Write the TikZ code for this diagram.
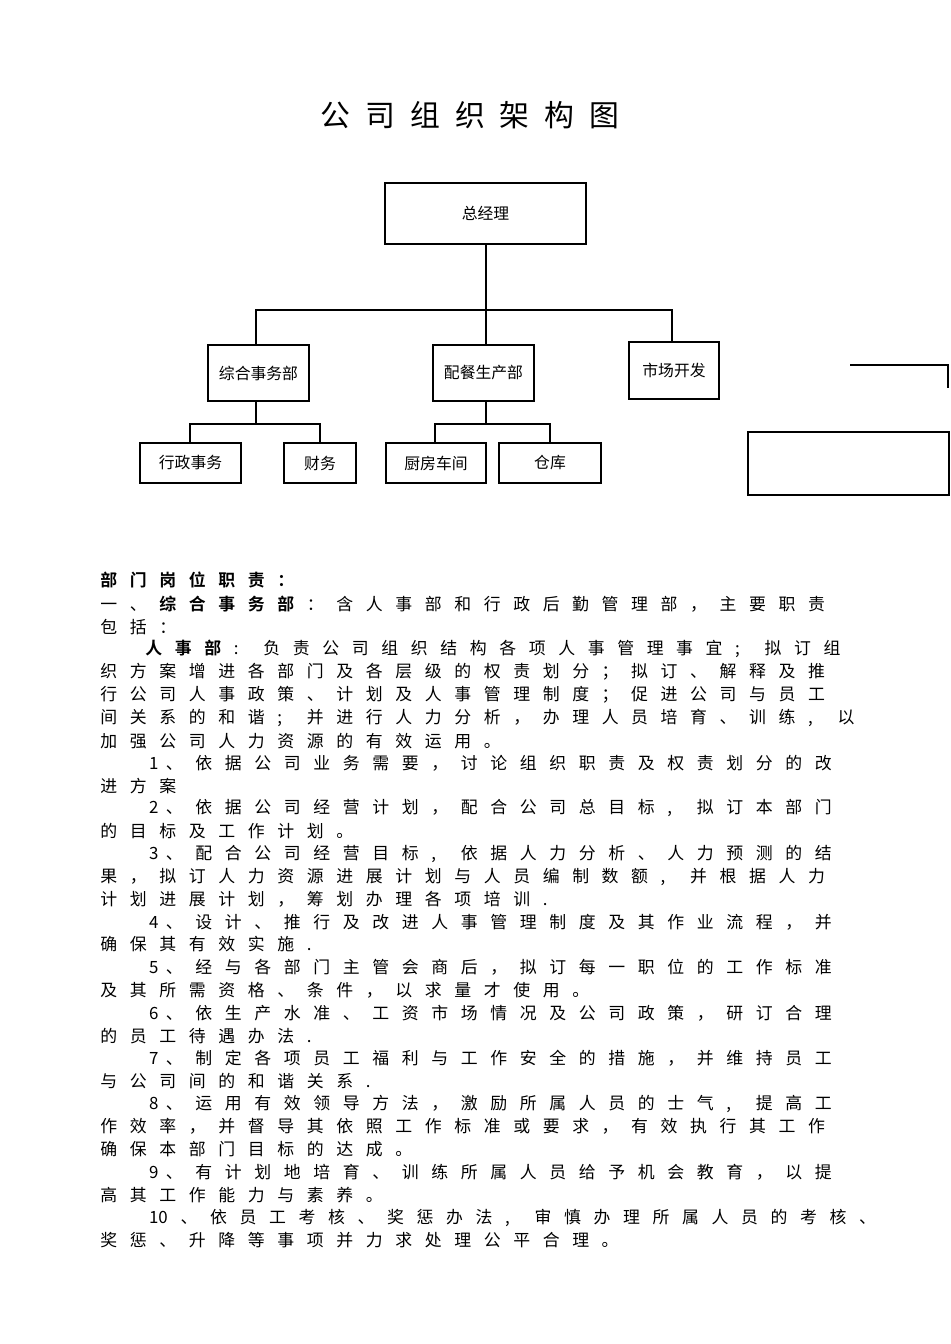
\documentclass[tikz,border=0pt]{standalone}
\usepackage{fontspec}
\newfontfamily\cjk{Noto Sans CJK SC}
\newfontfamily\cjkb{Noto Sans CJK SC Bold}
\newlength\cw \setlength\cw{0.59cm}
\def\spx#1{\ifx\relax#1\else\makebox[\cw][l]{#1}\expandafter\spx\fi}
\begin{document}
\begin{tikzpicture}[x=0.02cm,y=-0.02cm,
 bx/.style={draw,line width=0.8pt,inner sep=0pt,font=\cjk\fontsize{9pt}{10pt}\selectfont},
 ln/.style={line width=0.7pt},
 tl/.style={anchor=west,inner sep=0pt,font=\cjk\fontsize{9.6pt}{11pt}\selectfont}]
\useasboundingbox (0,0) rectangle (950,1344);
\node[font=\cjk\fontsize{17pt}{20pt}\selectfont] (title) at (470,115) {公\hspace{0.5em}司\hspace{0.5em}组\hspace{0.5em}织\hspace{0.5em}架\hspace{0.5em}构\hspace{0.5em}图};
\node[bx,minimum width=4.02cm,minimum height=1.22cm] (gm) at (485.5,213.5) {总经理};
\node[bx,minimum width=2.02cm,minimum height=1.12cm] (z) at (258.5,373) {综合事务部};
\node[bx,minimum width=2.02cm,minimum height=1.12cm] (p) at (483.5,373) {配餐生产部};
\node[bx,minimum width=1.8cm,minimum height=1.14cm] (s) at (674,370.5) {市场开发};
\node[bx,minimum width=2.02cm,minimum height=0.8cm] (a) at (190.5,463) {行政事务};
\node[bx,minimum width=1.44cm,minimum height=0.8cm] (b) at (320,463) {财务};
\node[bx,minimum width=2cm,minimum height=0.8cm] (c) at (436,463) {厨房车间};
\node[bx,minimum width=2.04cm,minimum height=0.8cm] (d) at (550,463) {仓库};
\node[bx,minimum width=4.02cm,minimum height=1.26cm] (e) at (848.5,463.5) {};
\coordinate (h1) at (850,365); \coordinate (h2) at (948,388);
\draw[ln] (gm.south -| 486,0) -- (486,345);
\draw[ln] (z.north -| 256,0) -- (256,310) -- (672,310) -- (s.north -| 672,0);
\draw[ln] (z.south -| 256,0) -- (256,424);
\draw[ln] (a.north -| 190,0) -- (190,424) -- (320,424) -- (b.north);
\draw[ln] (p.south -| 486,0) -- (486,424);
\draw[ln] (c.north -| 435,0) -- (435,424) -- (550,424) -- (d.north);
\draw[ln] (h1) -- (h1 -| h2) -- (h2);
% text
\def\L#1#2#3{\node[tl] at (#1,#2) {\spx #3\relax};}
\def\N#1#2#3#4#5{\node[tl] at (#1,#2) {\makebox[#3\cw][l]{#4}\spx #5\relax};}
\node[tl,font=\cjkb\fontsize{9.6pt}{11pt}\selectfont] at (100,580) {\spx 部门岗位职责：\relax};
\node[tl] at (100,604) {\spx 一、\relax{\cjkb\spx 综合事务部\relax}\spx ：含人事部和行政后勤管理部，主要职责\relax};
\L{100}{627}{包括：}
\node[tl] at (145,649) {{\cjkb\spx 人事部\relax}\spx :负责公司组织结构各项人事管理事宜;拟订组\relax};
\L{100}{672}{织方案增进各部门及各层级的权责划分；拟订、解释及推}
\L{100}{695}{行公司人事政策、计划及人事管理制度；促进公司与员工}
\L{100}{718}{间关系的和谐;并进行人力分析，办理人员培育、训练,以}
\L{100}{741}{加强公司人力资源的有效运用。}
\N{145}{763}{0.7}{\ 1}{、依据公司业务需要，讨论组织职责及权责划分的改}
\L{100}{786}{进方案}
\N{145}{808}{0.7}{\ 2}{、依据公司经营计划，配合公司总目标,拟订本部门}
\L{100}{831}{的目标及工作计划。}
\N{145}{854}{0.7}{\ 3}{、配合公司经营目标,依据人力分析、人力预测的结}
\L{100}{877}{果，拟订人力资源进展计划与人员编制数额,并根据人力}
\L{100}{899}{计划进展计划，筹划办理各项培训.}
\N{145}{922}{0.7}{\ 4}{、设计、推行及改进人事管理制度及其作业流程，并}
\L{100}{944}{确保其有效实施.}
\N{145}{967}{0.7}{\ 5}{、经与各部门主管会商后，拟订每一职位的工作标准}
\L{100}{990}{及其所需资格、条件，以求量才使用。}
\N{145}{1013}{0.7}{\ 6}{、依生产水准、工资市场情况及公司政策，研订合理}
\L{100}{1036}{的员工待遇办法.}
\N{145}{1058}{0.7}{\ 7}{、制定各项员工福利与工作安全的措施，并维持员工}
\L{100}{1081}{与公司间的和谐关系.}
\N{145}{1104}{0.7}{\ 8}{、运用有效领导方法，激励所属人员的士气,提高工}
\L{100}{1126}{作效率，并督导其依照工作标准或要求，有效执行其工作}
\L{100}{1149}{确保本部门目标的达成。}
\N{145}{1172}{0.7}{\ 9}{、有计划地培育、训练所属人员给予机会教育，以提}
\L{100}{1195}{高其工作能力与素养。}
\N{145}{1218}{1.2}{\ 10 }{、依员工考核、奖惩办法,审慎办理所属人员的考核、}
\L{100}{1240}{奖惩、升降等事项并力求处理公平合理。}
\end{tikzpicture}
\end{document}
